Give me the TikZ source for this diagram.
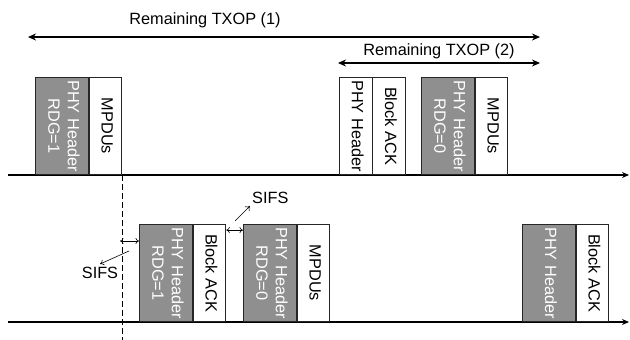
\documentclass[tikz,border=0pt]{standalone}
\usepackage{fontspec}
\setmainfont{Liberation Sans}
\usetikzlibrary{positioning}
\usetikzlibrary{arrows.meta}

\newcommand{\vtext}[1]{\rotatebox{-90}{\begin{tabular}{@{}c@{}}#1\end{tabular}}}

\begin{document}
\begin{tikzpicture}[x=1pt,y=-1pt,font=\fontsize{16.3}{19.5}\selectfont,
    hdr/.style={draw=black!85,line width=0.9pt,fill=black!44,text=white,minimum width=53pt,minimum height=97pt,inner sep=0pt,anchor=south west},
    pay/.style={draw=black!85,line width=0.9pt,fill=white,minimum width=32.5pt,minimum height=97pt,inner sep=0pt,anchor=south west},
    timeline/.style={line width=1.6pt,-{Stealth[length=7pt,width=6pt]}},
    txop/.style={line width=1.6pt,{Stealth[length=8pt,width=7pt]}-{Stealth[length=8pt,width=7pt]}},
    sifs/.style={line width=0.6pt,{To[length=3.5pt,width=6pt]}-{To[length=3.5pt,width=6pt]}},
    ptr/.style={line width=0.6pt,-{To[length=4pt,width=6pt]}}]
    \useasboundingbox (0,0) rectangle (630,340);

    % top station
    \coordinate (ta0) at (8,175);
    \coordinate (ta1) at (629,175);
    \draw[timeline] (ta0) -- (ta1);

    \node[hdr] (ta) at (35,175) {\vtext{PHY Header\\RDG=1}};
    \node[pay,right=0pt of ta] (tb) {\vtext{MPDUs}};
    \node[pay] (tc) at (339,175) {\vtext{PHY Header}};
    \node[pay,right=0pt of tc] (td) {\vtext{Block ACK}};
    \node[hdr] (te) at (421,175) {\vtext{PHY Header\\RDG=0}};
    \node[pay,right=0pt of te] (tf) {\vtext{MPDUs}};

    % remaining TXOP
    \coordinate (r1a) at (28,37);
    \coordinate (r1b) at (540,37);
    \coordinate (r2a) at (338,63);
    \coordinate (r2b) at (540,63);
    \draw[txop] (r1a) -- (r1b);
    \draw[txop] (r2a) -- (r2b);
    \node (txop1) at (205,20) {Remaining TXOP (1)};
    \node (txop2) at (439,51) {Remaining TXOP (2)};

    % bottom station
    \coordinate (ba0) at (8,322);
    \coordinate (ba1) at (629,322);
    \draw[timeline] (ba0) -- (ba1);

    \node[hdr] (ba) at (139,322) {\vtext{PHY Header\\RDG=1}};
    \node[pay,right=0pt of ba] (bb) {\vtext{Block ACK}};
    \node[hdr] (bc) at (243,322) {\vtext{PHY Header\\RDG=0}};
    \node[pay,right=0pt of bc] (bd) {\vtext{MPDUs}};
    \node[hdr] (be) at (522,322) {\vtext{PHY Header}};
    \node[pay,right=0pt of be] (bf) {\vtext{Block ACK}};

    % end of MPDUs
    \coordinate (dend) at (120,340);
    \draw[line width=0.7pt,dash pattern=on 6pt off 3pt] (tb.south east) -- (tb.south east |- dend);

    % SIFS gaps
    \coordinate (s1) at (120,241);
    \draw[sifs] (s1) -- (ba.north west |- s1);
    \draw[sifs] ([yshift=-6pt]bb.north east) -- ([yshift=-6pt]bc.north west);

    \node[inner sep=3pt] (sifsA) at (100,273) {SIFS};
    \node[inner sep=2pt,anchor=south west] (sifsB) at (250,206) {SIFS};
    \coordinate (p1) at (129,251);
    \coordinate (p2) at (235,221);
    \draw[ptr] (p1) -- (sifsA.north);
    \draw[ptr] (p2) -- (sifsB.south west);
\end{tikzpicture}
\end{document}
